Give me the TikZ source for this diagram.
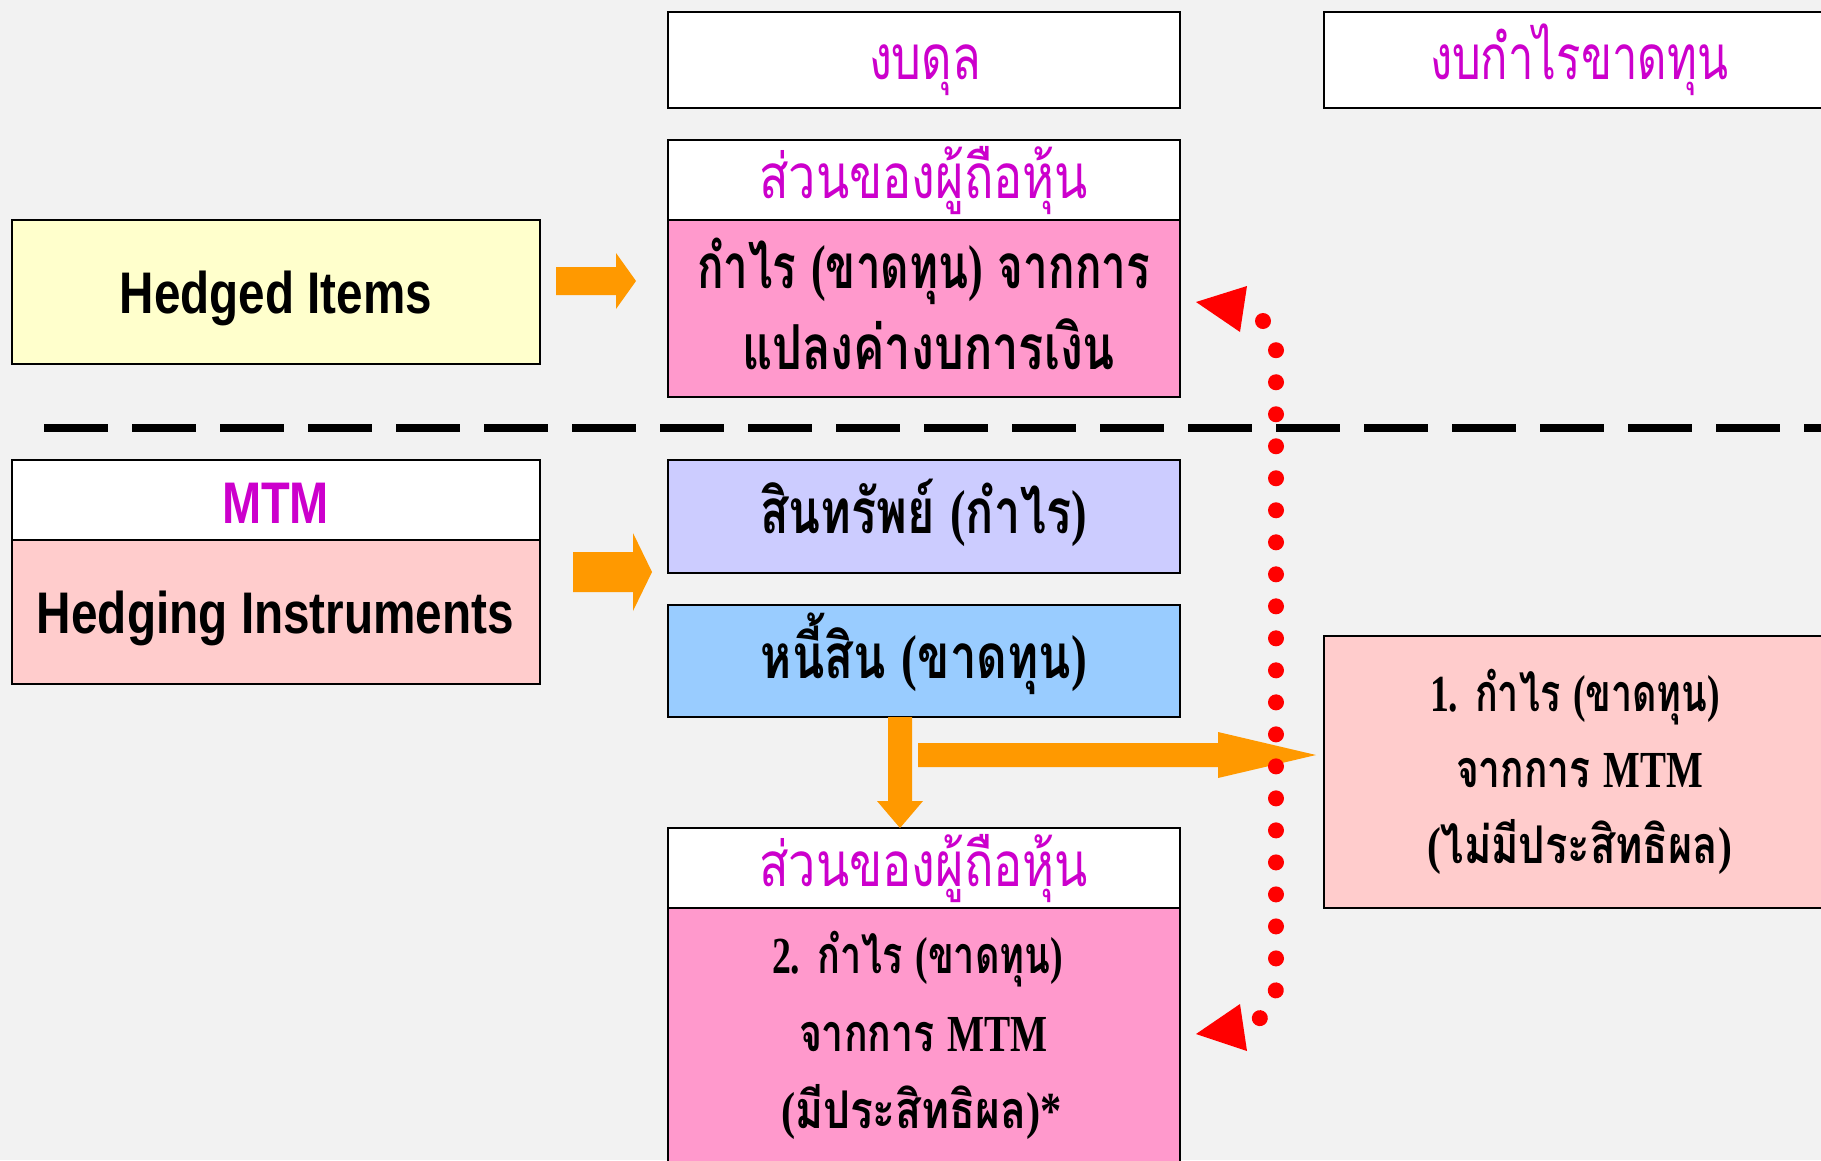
\documentclass[tikz,border=0pt]{standalone}
\usepackage{fontspec}
\usepackage{graphicx}
\newfontfamily\thaifont[Script=Thai]{Loma}
\newfontfamily\sansfont{Liberation Sans}
\newfontfamily\seriffont{Liberation Serif}
\definecolor{bgcol}{HTML}{F2F2F2}
\definecolor{headtxt}{HTML}{CC00CC}
\definecolor{equitypink}{HTML}{FF99CC}
\definecolor{lightpink}{HTML}{FFCCCC}
\definecolor{lightyellow}{HTML}{FFFFCC}
\definecolor{lavender}{HTML}{CCCCFF}
\definecolor{skyblue}{HTML}{99CCFF}
\definecolor{blockorange}{HTML}{FF9900}
\definecolor{linkred}{HTML}{FF0000}
% squeeze a line of text to a given width (in pt), keeping its height
\newcommand\fitw[2]{\resizebox{#1pt}{\height}{#2}}
\newcommand\lat[1]{{\seriffont\bfseries #1}}
\newcommand\lp{\lat{(}}
\newcommand\rp{\lat{)}}
\begin{document}
\begin{tikzpicture}[x=1pt,y=-1pt,
  panel/.style={draw=black, line width=2pt, rectangle, inner sep=0pt},
  label/.style={inner sep=0pt, anchor=base},
  headline/.style={label, text=headtxt, font=\thaifont\fontsize{62}{66}\selectfont},
  bodyline/.style={label, text=black, font=\thaifont\bfseries\fontsize{62}{66}\selectfont},
  smallline/.style={label, text=black, font=\thaifont\bfseries\fontsize{52}{56}\selectfont},
  engline/.style={label, font=\sansfont\bfseries\fontsize{58.7}{62}\selectfont},
  blockarrow/.style={fill=blockorange},
  dotlink/.style={draw=linkred, line width=16pt, line cap=round, dash pattern=on 0.01pt off 32pt},
  redtip/.style={fill=linkred}]
\useasboundingbox (0,0) rectangle (1821,1160);
\clip (0,0) rectangle (1821,1160);
\fill[bgcol] (0,0) rectangle (1821,1160);

% column headings
\node[panel, fill=white, minimum width=512pt, minimum height=96pt] (bs) at (924,60) {};
\node[panel, fill=white, minimum width=512pt, minimum height=96pt] (pl) at (1580,60) {};
\node[headline] (bst) at (925,79) {\fitw{112}{งบดุล}};
\node[headline] (plt) at (1579,79) {\fitw{298}{งบกำไรขาดทุน}};

% equity block for the hedged items
\node[panel, fill=white, minimum width=512pt, minimum height=80pt] (eqh1) at (924,180) {};
\node[panel, fill=equitypink, minimum width=512pt, minimum height=177pt] (eqb1) at (924,308.5) {};
\node[headline] (eqh1t) at (923.5,198) {\fitw{329}{ส่วนของผู้ถือหุ้น}};
\node[bodyline] (eqb1a) at (923.5,288) {\fitw{453}{กำไร \lp ขาดทุน\rp{} จากการ}};
\node[bodyline] (eqb1b) at (928.5,369) {\fitw{373}{แปลงค่างบการเงิน}};

% hedged items
\node[panel, fill=lightyellow, minimum width=528pt, minimum height=144pt] (hi) at (276,292) {};
\node[engline] (hit) at (276,313) {\fitw{312}{Hedged Items}};

% separator
\draw[line width=8pt, dash pattern=on 64pt off 24pt] (44,428) -- (1821,428);

% hedging instruments
\node[panel, fill=white, minimum width=528pt, minimum height=80pt] (mtmh) at (276,500) {};
\node[panel, fill=lightpink, minimum width=528pt, minimum height=144pt] (hins) at (276,612) {};
\node[engline, text=headtxt] (mtmt) at (275.5,523) {\fitw{107}{MTM}};
\node[engline] (hinst) at (275.5,633) {\fitw{477}{Hedging Instruments}};

% assets and liabilities
\node[panel, fill=lavender, minimum width=512pt, minimum height=113pt] (asset) at (924,516.5) {};
\node[panel, fill=skyblue, minimum width=512pt, minimum height=112pt] (liab) at (924,661) {};
\node[bodyline] (assett) at (923.5,533) {\fitw{327}{สินทรัพย์ \lp กำไร\rp}};
\node[bodyline] (liabt) at (924,678) {\fitw{326}{หนี้สิน \lp ขาดทุน\rp}};

% ineffective part, to profit and loss
\node[panel, fill=lightpink, minimum width=512pt, minimum height=272pt] (ineff) at (1580,772) {};
\node[smallline] (ineffa) at (1575,711) {\fitw{290}{\lat{1.} กำไร \lp ขาดทุน\rp}};
\node[smallline] (ineffb) at (1579.5,787) {\fitw{247}{จากการ \lat{MTM}}};
\node[smallline] (ineffc) at (1579.5,863) {\fitw{305}{\lp ไม่มีประสิทธิผล\rp}};

% effective part, to equity
\node[panel, fill=white, minimum width=512pt, minimum height=80pt] (eqh2) at (924,868) {};
\node[panel, fill=equitypink, minimum width=512pt, minimum height=272pt] (eqb2) at (924,1044) {};
\node[headline] (eqh2t) at (923.5,886) {\fitw{329}{ส่วนของผู้ถือหุ้น}};
\node[smallline] (eqb2a) at (917.5,973) {\fitw{291}{\lat{2.} กำไร \lp ขาดทุน\rp}};
\node[smallline] (eqb2b) at (923.5,1051) {\fitw{249}{จากการ \lat{MTM}}};
\node[smallline] (eqb2c) at (921.5,1128) {\fitw{281}{\lp มีประสิทธิผล\rp\lat{*}}};

% block arrows
\fill[blockarrow] (556,267) -- (616,267) -- (616,253) -- (636,281) -- (616,309) -- (616,295) -- (556,295) -- cycle;
\fill[blockarrow] (573,552) -- (633,552) -- (633,533) -- (652,572) -- (633,611) -- (633,592) -- (573,592) -- cycle;
\fill[blockarrow] (888,717) -- (912,717) -- (912,801) -- (923,801) -- (900,828) -- (877,801) -- (888,801) -- cycle;
\fill[blockarrow] (918,743) -- (1218,743) -- (1218,732) -- (1316,755) -- (1218,778) -- (1218,767) -- (918,767) -- cycle;

% dotted link between the two equity blocks
\coordinate (linktop) at (1263,321);
\coordinate (linkbot) at (1259.5,1018.7);
\draw[dotlink] (linktop) -- (1276,350) -- (1276,990) -- (linkbot);
\fill[redtip] (1196,302) -- (1247,286) -- (1240,332) -- cycle;
\fill[redtip] (1196,1034) -- (1240,1004) -- (1247,1051) -- cycle;
\end{tikzpicture}
\end{document}
